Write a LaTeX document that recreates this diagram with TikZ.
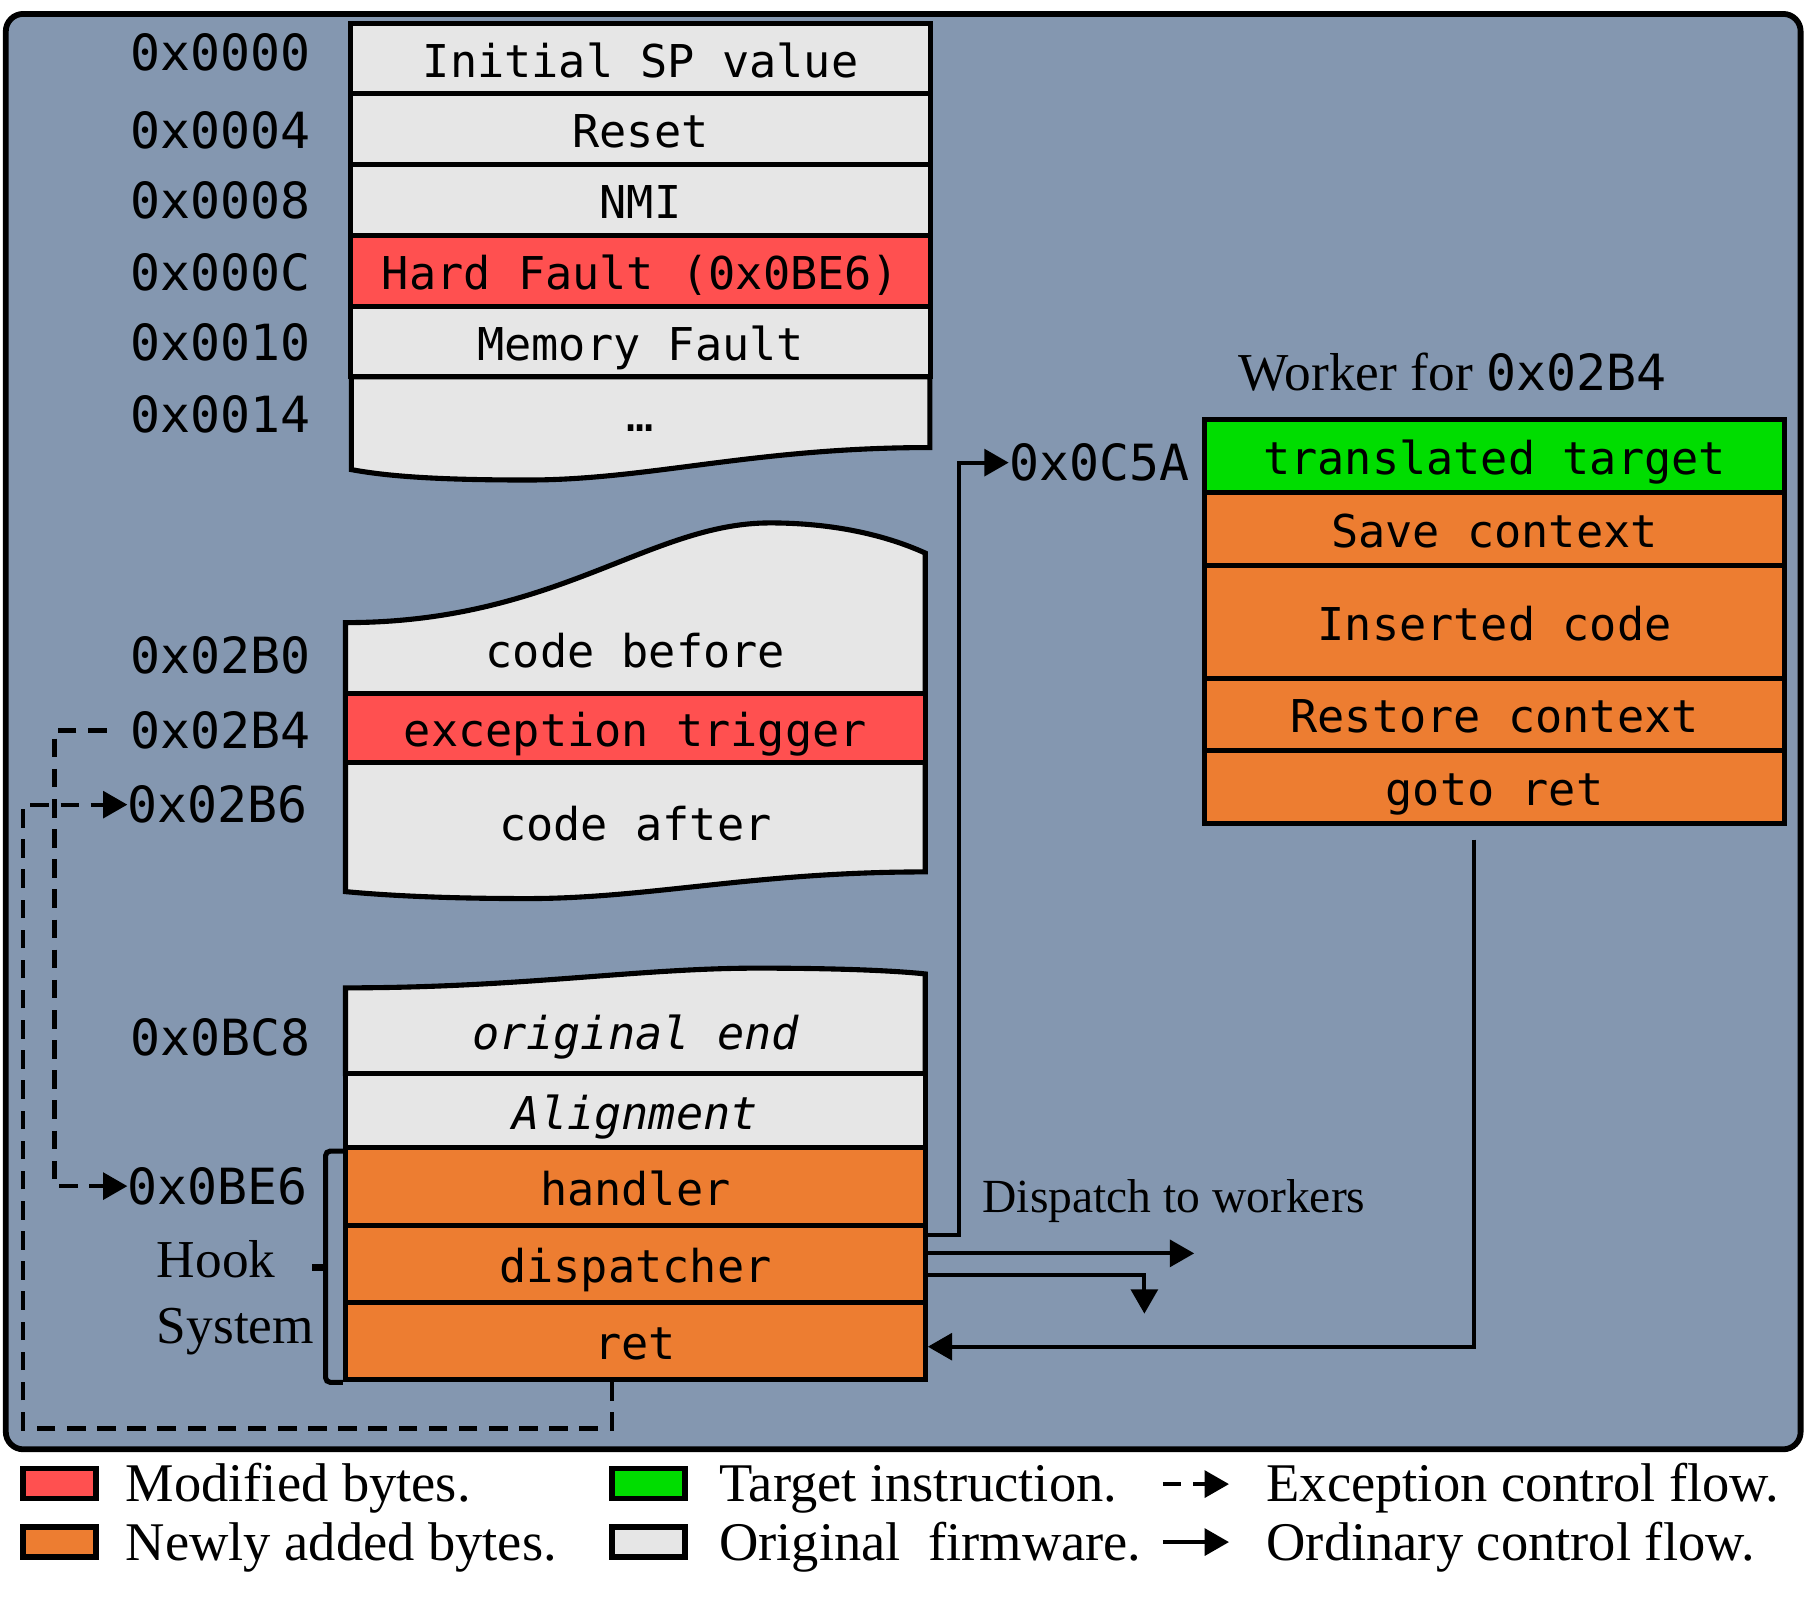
\documentclass[tikz,border=0pt]{standalone}
\usepackage{fontspec}
\setmainfont{Liberation Serif}
\setmonofont{DejaVu Sans Mono}
\usetikzlibrary{arrows.meta}
\definecolor{bgblue}{HTML}{8497B0}
\definecolor{cellgray}{HTML}{E6E6E6}
\definecolor{modred}{HTML}{FF5050}
\definecolor{neworange}{HTML}{ED7D31}
\definecolor{tgtgreen}{HTML}{00DD00}

\begin{document}
\begin{tikzpicture}[x=0.5pt, y=-0.5pt,
		cell/.style={draw, line width=2.2pt, inner sep=0pt, minimum width=250pt, text height=16pt, text depth=0pt, font=\ttfamily\fontsize{19.5}{20}\selectfont},
		celltext/.style={inner sep=0pt, text height=16pt, text depth=0pt, font=\ttfamily\fontsize{19.5}{20}\selectfont},
		addr/.style={anchor=east, inner sep=0pt, font=\ttfamily\fontsize{21.5}{22}\selectfont},
		serif/.style={inner sep=0pt, font=\fontsize{23}{28.5}\selectfont},
		legtext/.style={anchor=base west, inner sep=0pt, font=\fontsize{23.5}{28}\selectfont},
		tape/.style={fill=cellgray, draw, line width=2.2pt},
		ordflow/.style={line width=1.8pt, -{Triangle[length=10.5pt,width=11.5pt]}},
		excflow/.style={ordflow, dash pattern=on 8pt off 5pt},
		legbox/.style={draw, line width=2.5pt, minimum width=31.5pt, minimum height=13pt, inner sep=0pt}]
	\useasboundingbox (0,0) rectangle (1568,1387);
	\draw[line width=2.5pt, fill=bgblue, rounded corners=7.5pt] (5,12) rectangle (1553,1250);

	\node[cell, fill=cellgray, minimum height=30.5pt] (vsp) at (552.5,50.5) {Initial SP value};
	\node[cell, fill=cellgray, minimum height=30.5pt] (vreset) at (552.5,111.5) {Reset};
	\node[cell, fill=cellgray, minimum height=30.5pt] (vnmi) at (552.5,172.5) {NMI};
	\node[cell, fill=modred, minimum height=30.5pt] (vhard) at (552.5,233.5) {Hard Fault (0x0BE6)};
	\node[cell, fill=cellgray, minimum height=30.5pt] (vmem) at (552.5,294.5) {Memory Fault};
	\filldraw[tape] (303,325) -- (802,325) -- (802,386) .. controls (650,386) and (560,414) .. (455,414) .. controls (380,414) and (335,411) .. (303,405) -- cycle;
	\node[celltext] (vmore) at (552.5,356) {…};

	\node[addr] (a0000) at (268,45) {0x0000};
	\node[addr] (a0004) at (268,112) {0x0004};
	\node[addr] (a0008) at (268,173) {0x0008};
	\node[addr] (a000C) at (268,235) {0x000C};
	\node[addr] (a0010) at (268,295) {0x0010};
	\node[addr] (a0014) at (268,357) {0x0014};

	\filldraw[tape] (298,598) -- (298,537) .. controls (480,537) and (560,451) .. (664,451) .. controls (720,451) and (765,462) .. (798,477) -- (798,752) .. controls (650,752) and (560,775) .. (455,775) .. controls (380,775) and (330,772) .. (298,769) -- cycle;
	\node[celltext] (cbefore) at (548,560) {code before};
	\node[cell, fill=modred, minimum height=30pt] (exctrig) at (548,628) {exception trigger};
	\node[celltext] (cafter) at (548,709) {code after};

	\node[addr] (a02B0) at (268,565) {0x02B0};
	\node[addr] (a02B4) at (268,630) {0x02B4};
	\node[addr] (a02B6) at (266,694) {0x02B6};

	\filldraw[tape] (298,926) -- (298,852) .. controls (450,852) and (550,835) .. (653,835) .. controls (720,835) and (770,837) .. (798,840) -- (798,926) -- cycle;
	\node[celltext, font=\ttfamily\itshape\fontsize{19.5}{20}\selectfont] (origend) at (548,889) {original end};
	\node[cell, fill=cellgray, minimum height=32pt] (align) at (548,958) {\itshape Alignment};
	\node[cell, fill=neworange, minimum height=33.5pt] (handler) at (548,1023.5) {handler};
	\node[cell, fill=neworange, minimum height=33pt] (dispatcher) at (548,1090) {dispatcher};
	\node[cell, fill=neworange, minimum height=33.5pt] (ret) at (548,1156.5) {ret};

	\node[addr] (a0BC8) at (268,895) {0x0BC8};
	\node[addr] (a0BE6) at (266,1023) {0x0BE6};

	\draw[line width=2.2pt, rounded corners=2pt] ([yshift=-2.5pt]handler.north west) -- ++(-15,0) |- (ret.south west);
	\draw[line width=3pt] ([shift={(-7.5pt,-1.5pt)}]dispatcher.west) -- ++(-12,0);
	\node[serif, anchor=west, align=left] (hook) at (135,1119) {Hook\\System};

	\node[serif, anchor=base west] (wtitle) at (1068,337) {Worker for {\ttfamily\fontsize{21.5}{22}\selectfont 0x02B4}};
	\node[cell, fill=tgtgreen, minimum height=31.5pt] (wtarget) at (1289,393.5) {translated target};
	\node[cell, fill=neworange, minimum height=31.5pt] (wsave) at (1289,456.5) {Save context};
	\node[cell, fill=neworange, minimum height=48.5pt] (winsert) at (1289,536.5) {Inserted code};
	\node[cell, fill=neworange, minimum height=31pt] (wrestore) at (1289,616) {Restore context};
	\node[cell, fill=neworange, minimum height=31.5pt] (gotoret) at (1289,678.5) {goto ret};
	\node[addr, anchor=west] (a0C5A) at (870,399) {0x0C5A};

	\node[serif, anchor=base west, font=\fontsize{20.5}{24}\selectfont] (displabel) at (847,1046) {Dispatch to workers};
	\coordinate (disp1) at (1030,1081);
	\coordinate (disp2) at (987,1133);
	\draw[ordflow] ([yshift=12.5pt]dispatcher.east) -- ++(27,0) |- (a0C5A.west);
	\draw[ordflow] (dispatcher.east |- disp1) -- (disp1);
	\draw[ordflow] ([yshift=-5pt]dispatcher.east) -| (disp2);
	\draw[ordflow] ([shift={(-9pt,-6pt)}]gotoret.south) |- ([yshift=-2.5pt]ret.east);

	\coordinate (excx) at (47,0);
	\coordinate (exbot) at (20,1232);
	\draw[excflow] ([xshift=-10pt]a02B4.west) -| (excx |- a0BE6.west) -- (a0BE6.west);
	\draw[excflow] ([xshift=-10pt]ret.south) |- (exbot) |- (a02B6.west);

	\node[legbox, fill=modred] (lgmod) at (51,1279.5) {};
	\node[legbox, fill=neworange] (lgnew) at (51,1330) {};
	\node[legbox, fill=tgtgreen] (lgtgt) at (559,1279.5) {};
	\node[legbox, fill=cellgray] (lgorig) at (559,1330) {};
	\node[legtext] (lgmodtext) at (108,1295) {Modified bytes.};
	\node[legtext] (lgnewtext) at (108,1346) {Newly added bytes.};
	\node[legtext] (lgtgttext) at (620,1295) {Target instruction.};
	\node[legtext] (lgorigtext) at (620,1346) {Original\ \ firmware.};
	\coordinate (lgexcA) at (1003,1280);
	\coordinate (lgexcB) at (1060,1280);
	\coordinate (lgordA) at (1003,1330);
	\coordinate (lgordB) at (1060,1330);
	\draw[excflow] (lgexcA) -- (lgexcB);
	\draw[ordflow] (lgordA) -- (lgordB);
	\node[legtext] (lgexctext) at (1092,1295) {Exception control flow.};
	\node[legtext] (lgordtext) at (1092,1346) {Ordinary control flow.};
\end{tikzpicture}
\end{document}
